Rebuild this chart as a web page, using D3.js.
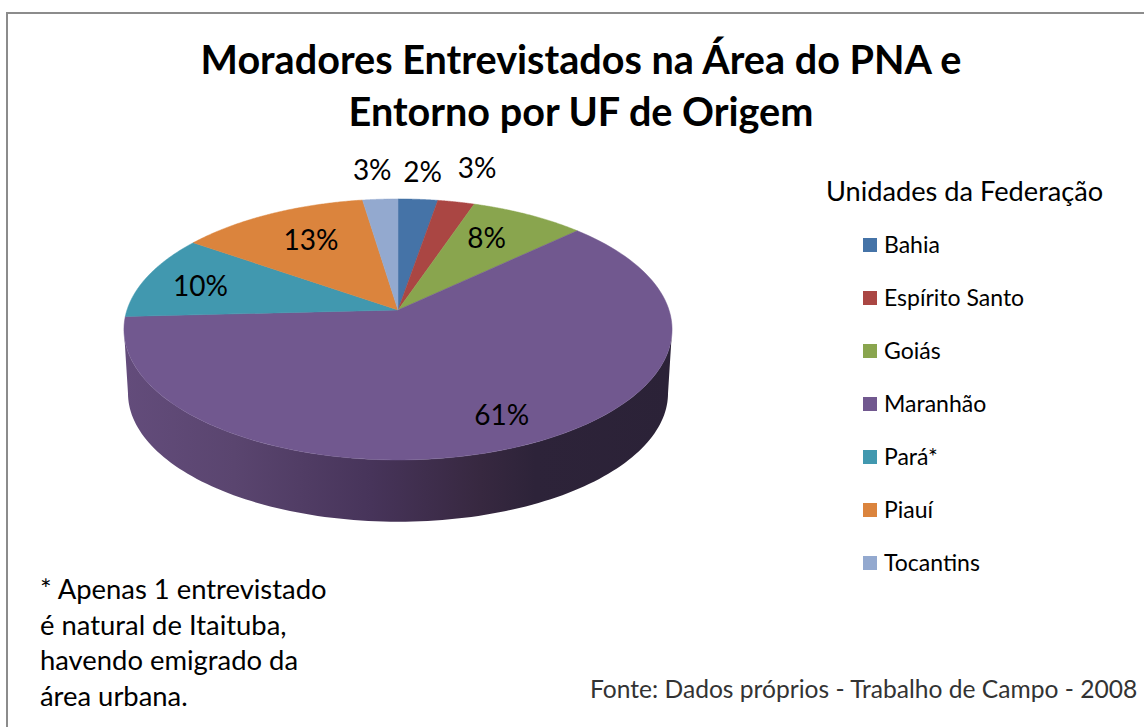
<!DOCTYPE html>
<html>
<head>
<meta charset="utf-8">
<script src="https://cdn.jsdelivr.net/npm/d3@7"></script>
<style>
  html, body { margin: 0; padding: 0; background: white; }
  svg { display: block; }
  text { font-family: Lato, "Open Sans", sans-serif; fill: black; }
</style>
</head>
<body>
<div id="plot"></div>
<script>
// data
const states = ["Bahia", "Espírito Santo", "Goiás", "Maranhão", "Pará*", "Piauí", "Tocantins"];
const shares = [2.7, 2.5, 7.8, 61.2, 10.5, 12.9, 2.4];
const shareLabels = ["2%", "3%", "8%", "61%", "10%", "13%", "3%"];
const colors = ["#4573a7", "#aa4643", "#89a54e", "#71588f", "#4198af", "#db843d", "#93a9cf"];
const titleLines = ["Moradores Entrevistados na Área do PNA e", "Entorno por UF de Origem"];
const noteLines = ["* Apenas 1 entrevistado", "é natural de Itaituba,", "havendo emigrado da", "área urbana."];
const legendTitle = "Unidades da Federação";
const sourceText = "Fonte: Dados próprios - Trabalho de Campo - 2008";

// label nudges from the point at 3/4 radius of each slice
const labelNudge = [[9, -52], [34, -58], [-12, 1.5], [15, 7], [-8, 2], [11, 4], [-12, -54]];

const width = 1144, height = 727;
const svg = d3.select("div#plot")
              .append("svg")
              .attr("width", width)
              .attr("height", height);

// frame
svg.append("rect")
   .attr("x", 7)
   .attr("y", 13)
   .attr("width", width + 20)
   .attr("height", height + 20)
   .attr("fill", "white")
   .attr("stroke", "#8c8c8c")
   .attr("stroke-width", 2);

// title
svg.selectAll("text.title")
   .data(titleLines)
   .enter()
   .append("text")
   .attr("class", "title")
   .attr("x", 581)
   .attr("y", (d, i) => 74 + i * 52)
   .attr("text-anchor", "middle")
   .attr("font-size", "39.6px")
   .attr("font-weight", "bold")
   .text(d => d);

// tilted disc, seen in perspective
const persp = 0.149;
function projector(cx, cy, rx, ry) {
  return function(theta, r) {
    const u = r * Math.sin(theta);
    const v = -r * Math.cos(theta);
    const d = 1 - persp * v;
    return [cx + rx * u / d, cy + ry * v / d];
  };
}
const topDisc = projector(398, 310, 271, 127.6);
const bottomDisc = projector(398, 374, 267, 125.7);

const slices = d3.pie().sort(null).value(d => d)(shares);
const line = d3.line();

function rim(project, a0, a1) {
  return d3.range(0, 121).map(i => project(a0 + (a1 - a0) * i / 120, 1));
}

// wall shading runs from left to right across the pie
const defs = svg.append("defs");
const wallGrad = defs.append("linearGradient")
   .attr("id", "wall")
   .attr("gradientUnits", "userSpaceOnUse")
   .attr("x1", 125).attr("x2", 672)
   .attr("y1", 0).attr("y2", 0);
[[0, "#634c7b"], [0.2, "#5a456f"], [0.45, "#47345a"], [0.65, "#372840"], [0.75, "#2d2339"], [1, "#2b2237"]]
  .forEach(s => wallGrad.append("stop").attr("offset", s[0]).attr("stop-color", s[1]));

// only the front of the wall shows, between the two side extremes
const front = [Math.PI - Math.acos(persp), Math.PI + Math.acos(persp)];

svg.selectAll("path.wall")
   .data(slices.filter(s => s.endAngle > front[0] && s.startAngle < front[1]))
   .enter()
   .append("path")
   .attr("class", "wall")
   .attr("fill", "url(#wall)")
   .attr("d", s => {
     const a0 = Math.max(s.startAngle, front[0]);
     const a1 = Math.min(s.endAngle, front[1]);
     return line(rim(topDisc, a0, a1).concat(rim(bottomDisc, a0, a1).reverse())) + "Z";
   });

// top of the pie
svg.selectAll("path.slice")
   .data(slices)
   .enter()
   .append("path")
   .attr("class", "slice")
   .attr("fill", (d, i) => colors[i])
   .attr("stroke", (d, i) => colors[i])
   .attr("stroke-width", 0.5)
   .attr("d", s => line([topDisc(0, 0)].concat(rim(topDisc, s.startAngle, s.endAngle))) + "Z");

// value labels
svg.selectAll("text.value")
   .data(slices)
   .enter()
   .append("text")
   .attr("class", "value")
   .attr("text-anchor", "middle")
   .attr("font-size", "28px")
   .attr("x", (s, i) => topDisc((s.startAngle + s.endAngle) / 2, 0.75)[0] + labelNudge[i][0])
   .attr("y", (s, i) => topDisc((s.startAngle + s.endAngle) / 2, 0.75)[1] + labelNudge[i][1] + 10)
   .text((s, i) => shareLabels[i]);

// legend
svg.append("text")
   .attr("x", 826)
   .attr("y", 201)
   .attr("font-size", "27.2px")
   .text(legendTitle);

const legendY = d3.scalePoint().domain(states).range([245, 563]);
const legend = svg.selectAll("g.legend")
   .data(states)
   .enter()
   .append("g")
   .attr("class", "legend")
   .attr("transform", d => "translate(863, " + legendY(d) + ")");
legend.append("rect")
   .attr("y", -7)
   .attr("width", 14)
   .attr("height", 14)
   .attr("fill", (d, i) => colors[i]);
legend.append("text")
   .attr("x", 21)
   .attr("y", 8)
   .attr("font-size", "23px")
   .text(d => d);

// note and source
svg.selectAll("text.note")
   .data(noteLines)
   .enter()
   .append("text")
   .attr("class", "note")
   .attr("x", 40)
   .attr("y", (d, i) => 599 + i * 35.5)
   .attr("font-size", "27.4px")
   .text(d => d);

svg.append("text")
   .attr("x", 590)
   .attr("y", 698)
   .attr("font-size", "24.6px")
   .style("fill", "#333")
   .text(sourceText);
</script>
</body>
</html>
